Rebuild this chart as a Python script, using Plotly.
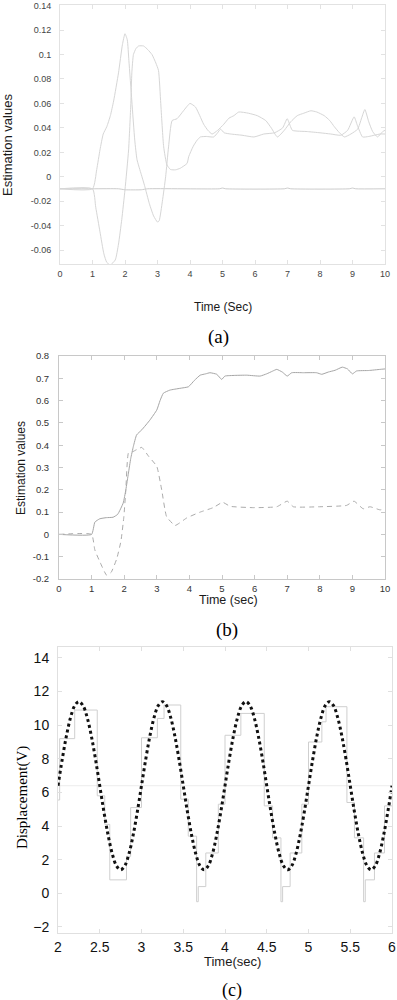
import plotly.graph_objects as go

# ---------------- Panel (a) data ----------------
ta_base = [0, 1.0, 1.8, 2.0, 2.5, 2.7, 4.9, 5.0, 5.1, 6.9, 7.0, 7.1, 8.9, 9.0, 9.1, 10]
va_base = [-0.0098, -0.0098, -0.0098, -0.0106, -0.0106, -0.0098, -0.0098, -0.0092, -0.0098,
           -0.0098, -0.0092, -0.0098, -0.0098, -0.0092, -0.0098, -0.0098]

ta_b = [0, 1.0, 1.13, 1.23, 1.33, 1.44, 1.55, 1.65, 1.8, 1.92, 2.0, 2.07, 2.12, 2.21, 2.3, 2.37,
        2.5, 2.6, 2.75, 2.88, 3.0, 3.05, 3.15, 3.25, 3.34, 3.45, 3.6, 3.8, 4.0, 4.17, 4.3, 4.42,
        4.55, 4.68, 4.85, 5.04, 5.2, 5.35, 5.5, 5.8, 6.07, 6.33, 6.5, 6.69, 6.9, 7.1, 7.3, 7.5,
        7.72, 7.9, 8.13, 8.3, 8.44, 8.6, 8.75, 8.95, 9.16, 9.28, 9.38, 9.5, 9.62, 9.77, 9.93, 10]
va_b = [-0.0098, -0.0098, 0.006, 0.022, 0.035, 0.041, 0.05, 0.062, 0.085, 0.108, 0.117, 0.112,
        0.095, 0.062, 0.03, 0.014, 0.002, -0.007, -0.022, -0.032, -0.037, -0.036, -0.02, 0.0,
        0.0245, 0.046, 0.0475, 0.054, 0.06, 0.057, 0.05, 0.043, 0.038, 0.035, 0.038, 0.043,
        0.048, 0.05, 0.053, 0.052, 0.05, 0.046, 0.04, 0.0326, 0.038, 0.045, 0.05, 0.052, 0.054,
        0.053, 0.05, 0.046, 0.041, 0.036, 0.0326, 0.035, 0.039, 0.048, 0.055, 0.045, 0.037,
        0.0326, 0.037, 0.038]

ta_d = [0, 1.0, 1.1, 1.23, 1.35, 1.44, 1.55, 1.7, 1.8, 1.9, 2.0, 2.11, 2.18, 2.21, 2.26, 2.34,
        2.42, 2.57, 2.7, 2.83, 2.95, 3.03, 3.1, 3.19, 3.29, 3.4, 3.55, 3.7, 3.91, 3.96, 4.1,
        4.22, 4.32, 4.5, 4.73, 4.85, 4.94, 5.05, 5.25, 5.6, 5.97, 6.27, 6.6, 6.85, 6.99, 7.08,
        7.15, 7.61, 8.0, 8.33, 8.64, 8.85, 9.05, 9.15, 9.31, 9.5, 9.67, 9.85, 10]
va_d = [-0.0098, -0.0098, -0.025, -0.045, -0.063, -0.07, -0.072, -0.068, -0.055, -0.035, -0.0105,
        0.022, 0.06, 0.085, 0.1, 0.105, 0.107, 0.107, 0.104, 0.1, 0.093, 0.087, 0.06, 0.0245,
        0.0097, 0.006, 0.0057, 0.007, 0.011, 0.0165, 0.025, 0.03, 0.0326, 0.033, 0.0326, 0.036,
        0.039, 0.036, 0.035, 0.034, 0.0326, 0.035, 0.036, 0.04, 0.0475, 0.042, 0.038, 0.037,
        0.036, 0.035, 0.034, 0.038, 0.049, 0.042, 0.0326, 0.033, 0.034, 0.035, 0.035]

a_xticks = [0, 1, 2, 3, 4, 5, 6, 7, 8, 9, 10]
a_yticks = [-0.06, -0.04, -0.02, 0, 0.02, 0.04, 0.06, 0.08, 0.1, 0.12, 0.14]
a_ylabels = ["-0.06", "-0.04", "-0.02", "0", "0.02", "0.04", "0.06", "0.08", "0.1", "0.12", "0.14"]

# ---------------- Panel (b) data ----------------
tb_solid = [0, 1.0, 1.1, 1.25, 1.45, 1.66, 1.8, 1.97, 2.05, 2.13, 2.2, 2.28, 2.38, 2.54, 2.79,
            3.0, 3.1, 3.2, 3.4, 3.71, 3.97, 4.15, 4.33, 4.5, 4.63, 4.84, 4.99, 5.09, 5.4, 5.76,
            6.17, 6.37, 6.55, 6.68, 6.85, 7.0, 7.14, 7.5, 7.9, 8.06, 8.26, 8.47, 8.69, 8.85,
            9.0, 9.13, 9.5, 9.85, 10]
vb_solid = [0, 0, 0.055, 0.07, 0.075, 0.077, 0.09, 0.141, 0.2, 0.275, 0.34, 0.394, 0.446, 0.469,
            0.513, 0.558, 0.6, 0.633, 0.647, 0.655, 0.662, 0.69, 0.714, 0.72, 0.725, 0.718, 0.695,
            0.71, 0.713, 0.714, 0.71, 0.72, 0.732, 0.74, 0.728, 0.71, 0.725, 0.725, 0.725, 0.718,
            0.728, 0.736, 0.75, 0.742, 0.72, 0.733, 0.735, 0.74, 0.742]

tb_dash = [0, 1.0, 1.1, 1.26, 1.46, 1.6, 1.77, 1.9, 1.99, 2.05, 2.13, 2.25, 2.38, 2.54, 2.75,
           3.0, 3.15, 3.3, 3.56, 3.92, 4.33, 4.73, 5.02, 5.25, 5.96, 6.68, 7.0, 7.19, 8.0, 8.82,
           9.05, 9.33, 9.54, 9.85, 10]
vb_dash = [0, 0, -0.07, -0.125, -0.183, -0.17, -0.11, -0.03, 0.08, 0.2, 0.365, 0.37, 0.38, 0.39,
           0.35, 0.305, 0.2, 0.08, 0.04, 0.074, 0.1, 0.12, 0.144, 0.126, 0.12, 0.124, 0.149,
           0.124, 0.124, 0.13, 0.149, 0.115, 0.124, 0.11, 0.115]

b_xticks = [0, 1, 2, 3, 4, 5, 6, 7, 8, 9, 10]
b_yticks = [-0.2, -0.1, 0, 0.1, 0.2, 0.3, 0.4, 0.5, 0.6, 0.7, 0.8]
b_ylabels = ["-0.2", "-0.1", "0", "0.1", "0.2", "0.3", "0.4", "0.5", "0.6", "0.7", "0.8"]

# ---------------- Panel (c) data ----------------
tc_ref = [2.00, 2.05, 2.10, 2.15, 2.20, 2.25, 2.30, 2.35, 2.40, 2.45,
          2.50, 2.55, 2.60, 2.65, 2.70, 2.75, 2.80, 2.85, 2.90, 2.95,
          3.00, 3.05, 3.10, 3.15, 3.20, 3.25, 3.30, 3.35, 3.40, 3.45,
          3.50, 3.55, 3.60, 3.65, 3.70, 3.75, 3.80, 3.85, 3.90, 3.95,
          4.00, 4.05, 4.10, 4.15, 4.20, 4.25, 4.30, 4.35, 4.40, 4.45,
          4.50, 4.55, 4.60, 4.65, 4.70, 4.75, 4.80, 4.85, 4.90, 4.95,
          5.00, 5.05, 5.10, 5.15, 5.20, 5.25, 5.30, 5.35, 5.40, 5.45,
          5.50, 5.55, 5.60, 5.65, 5.70, 5.75, 5.80, 5.85, 5.90, 5.95,
          6.00]
vc_ref = [6.4, 7.95, 9.34, 10.45, 11.16, 11.4, 11.16, 10.45, 9.34, 7.95,
          6.4, 4.85, 3.46, 2.35, 1.64, 1.4, 1.64, 2.35, 3.46, 4.85,
          6.4, 7.95, 9.34, 10.45, 11.16, 11.4, 11.16, 10.45, 9.34, 7.95,
          6.4, 4.85, 3.46, 2.35, 1.64, 1.4, 1.64, 2.35, 3.46, 4.85,
          6.4, 7.95, 9.34, 10.45, 11.16, 11.4, 11.16, 10.45, 9.34, 7.95,
          6.4, 4.85, 3.46, 2.35, 1.64, 1.4, 1.64, 2.35, 3.46, 4.85,
          6.4, 7.95, 9.34, 10.45, 11.16, 11.4, 11.16, 10.45, 9.34, 7.95,
          6.4, 4.85, 3.46, 2.35, 1.64, 1.4, 1.64, 2.35, 3.46, 4.85,
          6.4]

tc_step = [2.00, 2.02, 2.20, 2.47, 2.56, 2.62, 2.82, 2.87, 3.00, 3.19, 3.27, 3.47, 3.56, 3.66,
           3.68, 3.77, 3.92, 4.00, 4.19, 4.47, 4.57, 4.67, 4.69, 4.78, 4.92, 5.00, 5.16, 5.21,
           5.46, 5.55, 5.66, 5.68, 5.79, 5.91, 6.00]
vc_step = [5.55, 9.2, 10.9, 5.8, 4.1, 0.8, 2.2, 5.1, 9.25, 10.4, 11.2, 5.6, 3.4, -0.5, 0.4, 2.4,
           5.3, 9.4, 10.7, 5.2, 3.3, -0.5, 0.4, 2.4, 5.3, 9.0, 10.2, 11.1, 5.4, 3.3, -0.5, 0.8,
           2.4, 5.2, 5.2]

ref_level = 6.4

c_xticks = [2, 2.5, 3, 3.5, 4, 4.5, 5, 5.5, 6]
c_xlabels = ["2", "2.5", "3", "3.5", "4", "4.5", "5", "5.5", "6"]
c_yticks = [-2, 0, 2, 4, 6, 8, 10, 12, 14]

# ---------------- Figure ----------------
W, H = 397, 1000
def px_x(p):
    return p / W
def px_y(p):
    return 1 - p / H

SANS = "Liberation Sans, Arial, sans-serif"
SERIF = "Liberation Serif, Times New Roman, serif"

fig = go.Figure()

line_a = "#d6d6d6"
for tx, vy, col in [(ta_base, va_base, "#cccccc"), (ta_b, va_b, line_a), (ta_d, va_d, line_a)]:
    fig.add_trace(go.Scatter(x=tx, y=vy, mode="lines", xaxis="x", yaxis="y",
                             line=dict(color=col, width=1, shape="spline", smoothing=0.5),
                             hoverinfo="skip"))

fig.add_trace(go.Scatter(x=tb_solid, y=vb_solid, mode="lines", xaxis="x2", yaxis="y2",
                         line=dict(color="#a6a6a6", width=1, shape="spline", smoothing=0.4),
                         hoverinfo="skip"))
fig.add_trace(go.Scatter(x=tb_dash, y=vb_dash, mode="lines", xaxis="x2", yaxis="y2",
                         line=dict(color="#ababab", width=1, dash="5px,4px", shape="spline",
                                   smoothing=0.4),
                         hoverinfo="skip"))

fig.add_trace(go.Scatter(x=tc_step, y=vc_step, mode="lines", xaxis="x3", yaxis="y3",
                         line=dict(color="#cfcfcf", width=1, shape="hv"), hoverinfo="skip"))
fig.add_trace(go.Scatter(x=tc_ref, y=vc_ref, mode="lines", xaxis="x3", yaxis="y3",
                         line=dict(color="#111111", width=3, dash="dot", shape="spline"),
                         hoverinfo="skip"))

def ax_common(linecolor, fsize, fcolor, standoff):
    return dict(showline=True, linecolor=linecolor, linewidth=1, mirror="ticks",
                ticks="inside", ticklen=4, tickcolor=linecolor, tickwidth=1,
                showgrid=False, zeroline=False, automargin=False,
                tickfont=dict(family=SANS, size=fsize, color=fcolor),
                ticklabelstandoff=standoff)

fig.update_layout(
    template="none",
    width=W, height=H, margin=dict(l=0, r=0, t=0, b=0, pad=0),
    paper_bgcolor="white", plot_bgcolor="white", showlegend=False,
    xaxis=dict(domain=[px_x(60), px_x(385)], range=[0, 10], tickvals=a_xticks,
               anchor="y", **ax_common("#e2e2e2", 9, "#444", 1)),
    yaxis=dict(domain=[px_y(264), px_y(5)], range=[-0.0713, 0.1405], tickvals=a_yticks,
               ticktext=a_ylabels, anchor="x", **ax_common("#e2e2e2", 9, "#444", 6)),
    xaxis2=dict(domain=[px_x(59), px_x(385)], range=[0, 10], tickvals=b_xticks,
                anchor="y2", **ax_common("#c8c8c8", 9.5, "#333", 1)),
    yaxis2=dict(domain=[px_y(579), px_y(356)], range=[-0.2, 0.8], tickvals=b_yticks,
                ticktext=b_ylabels, anchor="x2", **ax_common("#c8c8c8", 9.5, "#333", 7)),
    xaxis3=dict(domain=[px_x(58), px_x(392)], range=[2, 6], tickvals=c_xticks,
                ticktext=c_xlabels, anchor="y3", **ax_common("#e0e0e0", 14, "#111", 1)),
    yaxis3=dict(domain=[px_y(933), px_y(647)], range=[-2.36, 14.65], tickvals=c_yticks,
                anchor="x3", **ax_common("#e0e0e0", 14, "#111", 5)),
    shapes=[dict(type="line", xref="x3 domain", yref="y3", x0=0, x1=1,
                 y0=ref_level, y1=ref_level, line=dict(color="#ececec", width=1), layer="below")],
)

def note(text, x, y, size, family, angle=0, color="#1a1a1a"):
    fig.add_annotation(text=text, x=px_x(x), y=px_y(y), xref="paper", yref="paper",
                       xanchor="center", yanchor="middle", showarrow=False, textangle=angle,
                       font=dict(family=family, size=size, color=color))

note("Time (Sec)", 223, 307, 12, SANS)
note("Estimation values", 7, 145, 13, SANS, angle=-90)
note("(a)", 218, 337, 19, SERIF, color="#000")

note("Estimation values", 21, 468, 12, SANS, angle=-90)
note("Time (sec)", 228, 600, 12.5, SANS)
note("(b)", 227, 630, 19, SERIF, color="#000")

note("Displacement(V)", 22, 798, 15, SERIF, angle=-90, color="#000")
note("Time(sec)", 233, 961, 13, SANS)
note("(c)", 232, 990, 18, SERIF, color="#000")

fig.write_html("out.html",
               config={"displayModeBar": False},
               post_script="document.body.style.margin='0';document.body.style.padding='0';")
